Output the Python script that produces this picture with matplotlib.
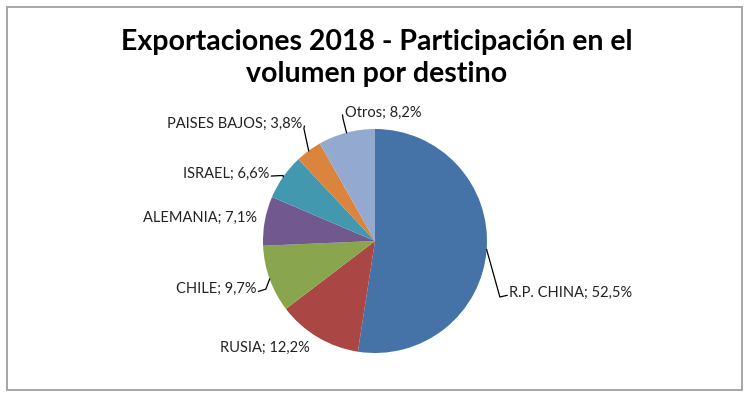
"""Exportaciones 2018 - participacion en el volumen por destino (pie)."""

import numpy as np
from matplotlib import pyplot as plt
from matplotlib.patches import Rectangle

# Chart data, in drawing order (clockwise from the top).
DESTINOS = ['R.P. CHINA', 'RUSIA', 'CHILE', 'ALEMANIA', 'ISRAEL', 'PAISES BAJOS', 'Otros']
PORCENTAJES = [52.5, 12.2, 9.7, 7.1, 6.6, 3.8, 8.2]
COLORES = ['#4572A7', '#AA4643', '#89A54E', '#71588F', '#4198AF', '#DB843D', '#93A9CF']

TITULO = 'Exportaciones 2018 - Participación en el\nvolumen por destino'

W, H = 750, 397
FONT = 'Lato'

# Label placement: (x, y) of the text anchor in pie units, horizontal alignment,
# and an optional elbow point for the leader line (None = no leader).
LABEL_POS = {
    'R.P. CHINA': ((1.20, -0.465), 'left', (1.115, -0.50)),
    'RUSIA': ((-0.98, -0.95), 'center', None),
    'CHILE': ((-1.06, -0.43), 'right', (-0.975, -0.43)),
    'ALEMANIA': ((-1.055, 0.205), 'right', None),
    'ISRAEL': ((-0.945, 0.60), 'right', (-0.82, 0.585)),
    'PAISES BAJOS': ((-0.65, 1.045), 'right', (-0.635, 1.005)),
    'Otros': ((-0.27, 1.145), 'left', (-0.285, 1.09)),
}


def _main():
    fig = plt.figure(figsize=(W / 100, H / 100), dpi=100)

    # Outer chart border.
    fig.patches.append(Rectangle((7 / W, 7 / H), 735 / W, 383 / H,
                                 transform=fig.transFigure, fill=False,
                                 edgecolor='#A6A6A6', linewidth=1.4))

    fig.text(377 / W, 1 - 58 / H, TITULO, ha='center', va='center',
             fontsize=20.5, fontweight='bold', family=FONT,
             linespacing=1.32, color='black')

    cx, cy, r = 375, 241, 112
    ax = fig.add_axes([(cx - r) / W, (H - cy - r) / H, 2 * r / W, 2 * r / H])
    wedges, _ = ax.pie(PORCENTAJES, colors=COLORES, startangle=90,
                       counterclock=False, radius=1,
                       wedgeprops=dict(linewidth=0))
    ax.set_xlim(-1, 1)
    ax.set_ylim(-1, 1)
    ax.axis('off')

    for name, pct, w in zip(DESTINOS, PORCENTAJES, wedges):
        mid = np.deg2rad((w.theta1 + w.theta2) / 2)
        edge = (np.cos(mid), np.sin(mid))
        (tx, ty), ha, elbow = LABEL_POS[name]
        txt = '%s; %s%%' % (name, ('%.1f' % pct).replace('.', ','))
        ax.text(tx, ty, txt, ha=ha, va='center', fontsize=10.5, family=FONT,
                color='#222222', clip_on=False)
        if elbow is not None:
            if ha == 'left':
                start = (tx - 0.02, ty - 0.02)
            elif ha == 'right':
                start = (tx + 0.02, ty - 0.02)
            else:
                start = (tx, ty)
            ax.plot([start[0], elbow[0], edge[0]], [start[1], elbow[1], edge[1]],
                    color='black', linewidth=0.9, clip_on=False)

    fig.savefig('out.png', dpi=100)


if __name__ == '__main__':
    _main()
